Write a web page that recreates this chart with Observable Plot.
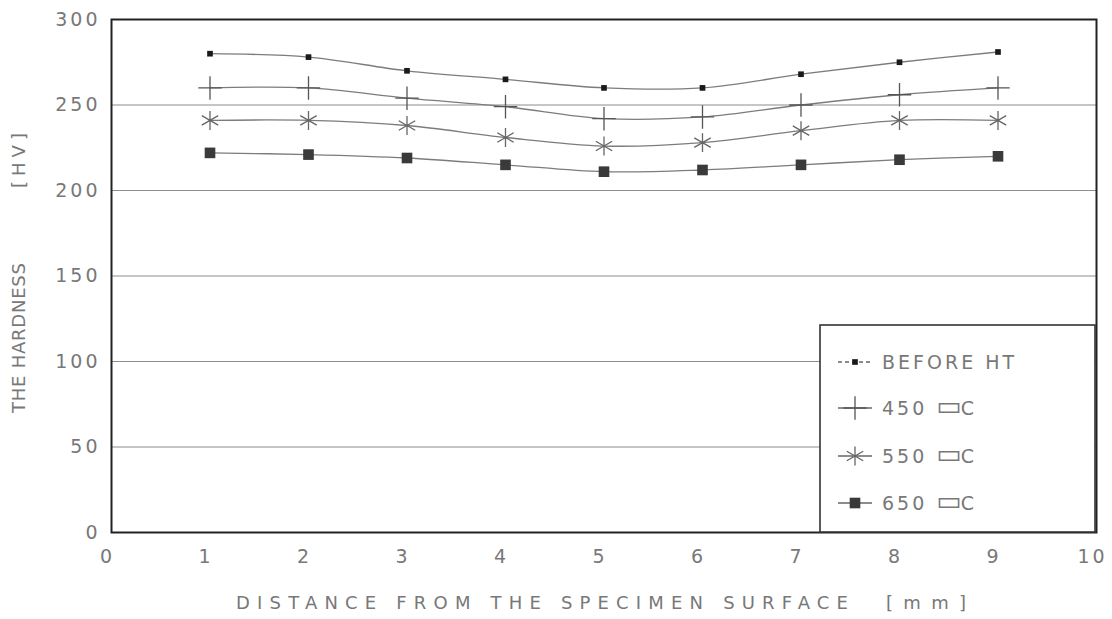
<!DOCTYPE html>
<html>
<head>
<meta charset="utf-8">
<script src="https://cdn.jsdelivr.net/npm/d3@7"></script>
<script src="https://cdn.jsdelivr.net/npm/@observablehq/plot@0.6"></script>
<style>
  body { margin: 0; background: #fff; }
  #chart { position: relative; width: 1112px; height: 619px; }
  #chart svg text { font-family: "DejaVu Sans", sans-serif; }
</style>
</head>
<body>
<div id="chart"></div>
<script>
// Hardness profile across the specimen, before and after heat treatment
const distance = [1, 2, 3, 4, 5, 6, 7, 8, 9];
const beforeHT = [280, 278, 270, 265, 260, 260, 268, 275, 281];
const hv450 = [260, 260, 254, 249, 242, 243, 250, 256, 260];
const hv550 = [241, 241, 238, 231, 226, 228, 235, 241, 241];
const hv650 = [222, 221, 219, 215, 211, 212, 215, 218, 220];
const seriesNames = ["BEFORE HT", "450 \u25AD\u0043", "550 \u25AD\u0043", "650 \u25AD\u0043"];
const xTicks = [0, 1, 2, 3, 4, 5, 6, 7, 8, 9, 10];
const yTicks = [0, 50, 100, 150, 200, 250, 300];
const gridLevels = [50, 100, 150, 200, 250];
const xTitle = "DISTANCE FROM THE SPECIMEN SURFACE";
const xUnit = "[mm]";
const yTitle = "THE HARDNESS";
const yUnit = "[HV]";

const seriesValues = [beforeHT, hv450, hv550, hv650];
const rows = seriesNames.flatMap((name, i) =>
  distance.map((d, j) => ({series: name, x: d, y: seriesValues[i][j]}))
);

// marker style per series
const markerStyle = [
  {symbol: "square", r: 3.2, fill: "#1a1a1a", stroke: "none"},
  {symbol: "plus", r: 7.6, fill: "none", stroke: "#555", strokeWidth: 1.3},
  {symbol: "asterisk", r: 9, fill: "none", stroke: "#666", strokeWidth: 1.3},
  {symbol: "square", r: 6, fill: "#3a3a3a", stroke: "none"}
];

const textColor = "#787878";
const W = 1112, H = 619;
const plot = Plot.plot({
  width: W,
  height: H,
  marginLeft: 111,
  marginRight: 16,
  marginTop: 19,
  marginBottom: 87,
  style: {fontFamily: "DejaVu Sans, sans-serif", fontSize: "19px", color: textColor, background: "#fff"},
  x: {domain: [0, 10]},
  y: {domain: [0, 300]},
  marks: [
    Plot.ruleY(gridLevels, {stroke: "#8c8c8c", strokeWidth: 1}),
    Plot.line(rows, {x: "x", y: "y", z: "series", curve: "catmull-rom", stroke: "#7c7c7c", strokeWidth: 1.3}),
    ...seriesNames.map((name, i) =>
      Plot.dot(rows.filter(r => r.series === name), {x: "x", y: "y", ...markerStyle[i]})
    ),
    Plot.axisX(xTicks, {tickSize: 0, tickPadding: 17, dx: -4, label: null, fill: textColor}),
    Plot.axisY(yTicks, {tickSize: 0, tickPadding: 11, label: null, fill: textColor}),
    Plot.frame({stroke: "#222", strokeWidth: 2})
  ]
});
document.getElementById("chart").appendChild(plot);

const svg = d3.select(plot);
// widen the digit spacing of the tick labels
svg.selectAll("g[aria-label='x-axis tick label'] text, g[aria-label='y-axis tick label'] text")
  .style("letter-spacing", "3px");

// axis titles
const title = svg.append("g").attr("fill", textColor).attr("font-size", 18)
  .attr("text-anchor", "start");
title.append("text").attr("x", 236).attr("y", 609).attr("textLength", 612).attr("lengthAdjust", "spacing").text(xTitle);
title.append("text").attr("x", 886).attr("y", 609).attr("textLength", 80).attr("lengthAdjust", "spacing").text(xUnit);
title.append("text").attr("transform", "translate(25,413) rotate(-90)").attr("textLength", 150).attr("lengthAdjust", "spacing").text(yTitle);
title.append("text").attr("transform", "translate(25,188) rotate(-90)").attr("textLength", 55).attr("lengthAdjust", "spacing").text(yUnit);

// legend box in the lower right corner of the frame
const lg = svg.append("g").attr("transform", "translate(820,325)").attr("text-anchor", "start");
lg.append("rect").attr("width", 275).attr("height", 207).attr("fill", "#fff").attr("stroke", "#333").attr("stroke-width", 1.6);
const rowY = [37, 83, 131, 178];
seriesNames.forEach((name, i) => {
  const g = lg.append("g").attr("transform", `translate(0,${rowY[i]})`);
  const m = markerStyle[i];
  g.append("line").attr("x1", 18).attr("x2", 52).attr("stroke", "#666").attr("stroke-width", 1.3)
    .attr("stroke-dasharray", i === 0 ? "4,3" : null);
  const sym = {square: d3.symbolSquare, plus: d3.symbolPlus, asterisk: d3.symbolAsterisk}[m.symbol];
  g.append("path").attr("transform", "translate(35,0)")
    .attr("d", d3.symbol(sym, Math.PI * m.r * m.r)())
    .attr("fill", m.fill).attr("stroke", m.stroke === "none" ? null : m.stroke)
    .attr("stroke-width", m.strokeWidth || null);
  const t = g.append("text").attr("x", 62).attr("dy", "0.36em").attr("fill", textColor).attr("font-size", 19)
    .style("letter-spacing", "3px");
  // the degree sign is shown as a box glyph; draw that glyph a little larger
  name.split(/(\u25AD)/).forEach(part => {
    if (!part) return;
    const span = t.append("tspan").text(part);
    if (part === "\u25AD") span.attr("font-size", 27).style("letter-spacing", "-1px");
  });
});
</script>
</body>
</html>
